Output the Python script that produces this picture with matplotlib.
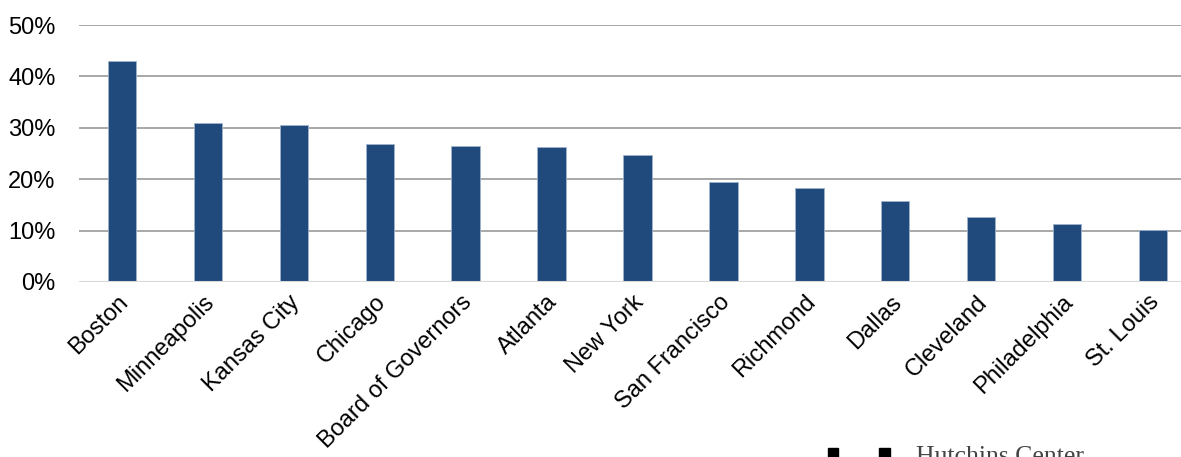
import matplotlib.pyplot as plt
import matplotlib.patches as mpatches
import matplotlib.transforms as mtransforms
from matplotlib.ticker import PercentFormatter

# Share by Reserve Bank, percent
banks = ['Boston', 'Minneapolis', 'Kansas City', 'Chicago', 'Board of Governors',
         'Atlanta', 'New York', 'San Francisco', 'Richmond', 'Dallas',
         'Cleveland', 'Philadelphia', 'St. Louis']
shares = [43.0, 30.9, 30.5, 26.8, 26.4, 26.2, 24.7, 19.4, 18.3, 15.7, 12.6, 11.2, 10.1]

plt.rcParams['font.family'] = ['Liberation Sans', 'DejaVu Sans']

fig = plt.figure(figsize=(11.81, 4.57), dpi=100)
ax = fig.add_axes([79 / 1181, 175 / 457, 1117 / 1181, 257 / 457])

x = list(range(len(banks)))
ax.bar(x, shares, width=0.33, color='#214a7c', edgecolor='#9fb3cc',
       linewidth=0.6, zorder=3)

ax.set_xlim(-0.5, len(banks) - 0.5)
ax.set_ylim(0, 50)
ax.set_yticks([0, 10, 20, 30, 40, 50])
ax.yaxis.set_major_formatter(PercentFormatter(decimals=0))
ax.grid(axis='y', color='#a8a8a8', linewidth=1.4, zorder=0)
ax.axhline(0, color='#d9d9d9', linewidth=2.2, zorder=4)

for s in ax.spines.values():
    s.set_visible(False)
ax.tick_params(axis='both', length=0, labelsize=17, colors='black')
ax.tick_params(axis='y', pad=17)

ax.set_xticks(x)
ax.set_xticklabels(banks, rotation=45, ha='right', va='top',
                   rotation_mode='anchor', fontsize=17)
ax.tick_params(axis='x', pad=8)
# nudge the slanted labels a little to the left
shift = mtransforms.ScaledTranslation(-5 / 100, 2 / 100, fig.dpi_scale_trans)
for lbl in ax.get_xticklabels():
    lbl.set_transform(lbl.get_transform() + shift)

# logo strip at the bottom
fig.patches.append(mpatches.Rectangle((828 / 1181, 0), 10 / 1181, 9 / 457,
                                      transform=fig.transFigure, color='black'))
fig.patches.append(mpatches.Rectangle((879 / 1181, 0), 11 / 1181, 9 / 457,
                                      transform=fig.transFigure, color='black'))
fig.text(916 / 1181, 11 / 457, 'Hutchins Center', family='Liberation Serif',
         fontsize=18.5, color='#444444', va='top', ha='left')

fig.savefig('out.png', dpi=100)
